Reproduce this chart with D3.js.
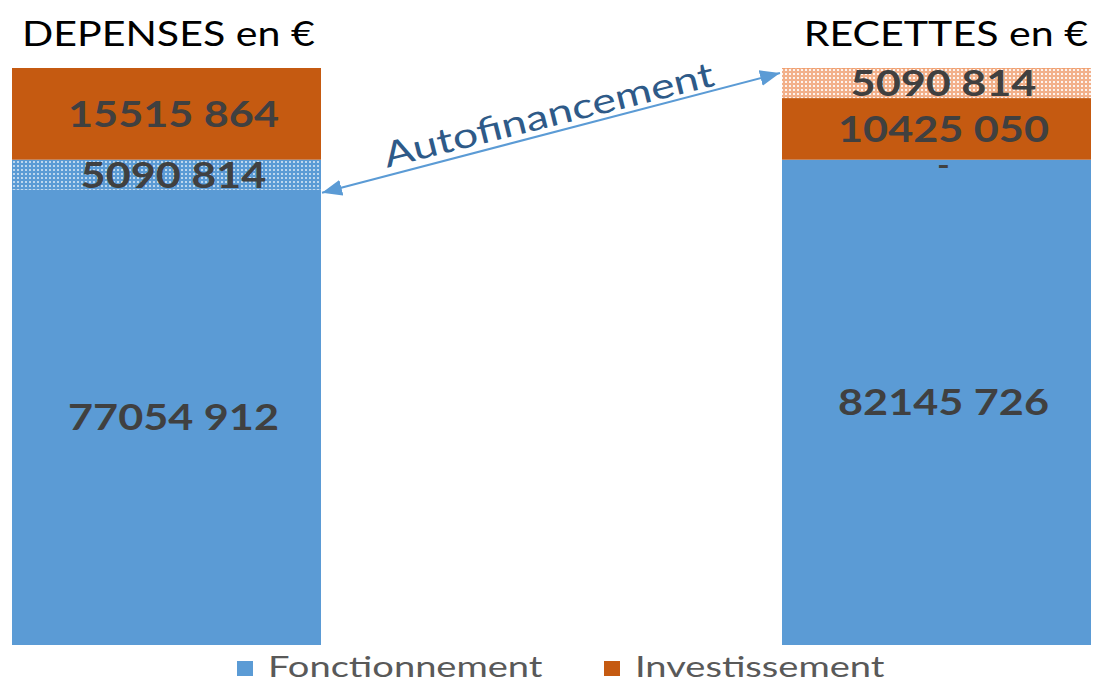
<!DOCTYPE html>
<html><head><meta charset="utf-8">
<script src="https://cdn.jsdelivr.net/npm/d3@7"></script>
<style>body{margin:0;background:#fff}svg{display:block}</style>
</head><body>
<svg id="c" width="1093" height="684"></svg>
<script>
const categories = ["DEPENSES en €", "RECETTES en €"];
const seriesNames = ["Fonctionnement", "Autofinancement F", "Investissement", "Autofinancement I"];
const fonctionnement = [77054912, 82145726];
const autofinFonct = [5090814, 0];
const investissement = [15515864, 10425050];
const autofinInvest = [0, 5090814];
const legendItems = ["Fonctionnement", "Investissement"];
const arrowLabel = "Autofinancement";

const BLUE = "#5b9bd5", ORANGE = "#c55a11";
const svg = d3.select("#c");
const defs = svg.append("defs");

function pat(id, base, dot, op) {
  const p = defs.append("pattern").attr("id", id).attr("width", 4).attr("height", 4)
    .attr("patternUnits", "userSpaceOnUse");
  p.append("rect").attr("width", 4).attr("height", 4).attr("fill", base);
  p.append("rect").attr("x", 1).attr("y", 1).attr("width", 2).attr("height", 2).attr("fill", dot).attr("opacity", op);
}
pat("hatchBlue", BLUE, "#ffffff", 0.6);
pat("hatchOrange", "#f2b08a", "#ffffff", 0.85);

const rows = categories.map((c, i) => ({
  cat: c,
  "Fonctionnement": fonctionnement[i],
  "Autofinancement F": autofinFonct[i],
  "Investissement": investissement[i],
  "Autofinancement I": autofinInvest[i]
}));
const stacked = d3.stack().keys(seriesNames)(rows);
const total = d3.max(rows, r => seriesNames.reduce((s, k) => s + r[k], 0));

const x = d3.scaleBand().domain(categories).range([12, 1091]).paddingInner(0.5987).paddingOuter(0);
const y = d3.scaleLinear().domain([0, total]).range([645, 68]);
const fills = {
  "Fonctionnement": BLUE,
  "Autofinancement F": "url(#hatchBlue)",
  "Investissement": ORANGE,
  "Autofinancement I": "url(#hatchOrange)"
};

// text placed at (px,py) and stretched horizontally by k
function sText(parent, px, py, k, extra) {
  return parent.append("text")
    .attr("x", 0).attr("y", 0)
    .attr("transform", `translate(${px},${py}) ${extra || ""} scale(${k},1)`);
}
function fmt(v) {
  if (v === 0) return "-";
  const s = String(v);
  return s.length > 3 ? s.slice(0, -3) + " " + s.slice(-3) : s;
}

// bars
stacked.forEach(layer => {
  svg.append("g").selectAll("rect").data(layer).join("rect")
    .attr("x", d => x(d.data.cat))
    .attr("width", x.bandwidth())
    .attr("y", d => y(d[1]))
    .attr("height", d => y(d[0]) - y(d[1]))
    .attr("fill", fills[layer.key]);
});
// dashed outline at top of orange hatch
svg.append("g").selectAll("line").data(stacked[3].filter(d => d[1] > d[0])).join("line")
  .attr("x1", d => x(d.data.cat)).attr("x2", d => x(d.data.cat) + x.bandwidth())
  .attr("y1", d => y(d[1]) + 0.5).attr("y2", d => y(d[1]) + 0.5)
  .attr("stroke", "#f0a070").attr("stroke-width", 1).attr("stroke-dasharray", "3,2");

// labels
const labG = svg.append("g");
stacked.forEach(layer => {
  layer.forEach(d => {
    const v = d[1] - d[0];
    if (v === 0 && d[1] >= total) return;
    const cx = x(d.data.cat) + x.bandwidth() / 2 + 7;
    const cy = (y(d[0]) + y(d[1])) / 2;
    if (v === 0) {
      sText(labG, cx, cy + 13, 1.3)
        .attr("text-anchor", "middle")
        .attr("font-family", "'DejaVu Sans', sans-serif").attr("font-weight", "bold")
        .attr("font-size", 22).attr("fill", "#404040").text(fmt(v));
    } else {
      sText(labG, cx, cy, 1.2)
        .attr("dy", "0.36em")
        .attr("text-anchor", "middle")
        .attr("font-family", "Lato, sans-serif").attr("font-weight", "bold")
        .attr("font-size", 36).attr("fill", "#404040").text(fmt(v));
    }
  });
});

// titles
const tg = svg.append("g");
categories.forEach((c, i) => {
  sText(tg, i === 0 ? 22 : 1088, 46, 1.21)
    .attr("text-anchor", i === 0 ? "start" : "end")
    .attr("font-family", "Lato, sans-serif")
    .attr("font-size", 34).attr("fill", "#000").text(c);
});

// arrow
const ax1 = x(categories[0]) + x.bandwidth() + 1, ay1 = y(fonctionnement[0]) + 3;
const ax2 = x(categories[1]) - 2, ay2 = y(total) + 5;
function marker(id, orient) {
  defs.append("marker").attr("id", id).attr("viewBox", "0 0 20 16")
    .attr("refX", 20).attr("refY", 8).attr("markerWidth", 20).attr("markerHeight", 16)
    .attr("markerUnits", "userSpaceOnUse").attr("orient", orient)
    .append("path").attr("d", "M0,0 L20,8 L0,16 Z").attr("fill", BLUE);
}
marker("arrEnd", "auto");
marker("arrStart", "auto-start-reverse");
svg.append("line").attr("x1", ax1).attr("y1", ay1).attr("x2", ax2).attr("y2", ay2)
  .attr("stroke", BLUE).attr("stroke-width", 2)
  .attr("marker-end", "url(#arrEnd)").attr("marker-start", "url(#arrStart)");
const ang = Math.atan2(ay2 - ay1, ax2 - ax1) * 180 / Math.PI;
const acx = 553, acy = ay1 + (ay2 - ay1) * (acx - ax1) / (ax2 - ax1);
sText(svg, acx, acy, 1.28, `rotate(${ang + 0.6}) translate(0,-6)`)
  .attr("text-anchor", "middle")
  .attr("font-family", "Lato, sans-serif")
  .attr("font-size", 35)
  .attr("fill", "#2e5a88")
  .text(arrowLabel);

// legend
const lg = svg.append("g");
const lx = [237, 604];
legendItems.forEach((name, i) => {
  lg.append("rect").attr("x", lx[i]).attr("y", 661).attr("width", 16).attr("height", 15)
    .attr("fill", i === 0 ? BLUE : ORANGE);
  sText(lg, lx[i] + 31, 677, 1.36)
    .attr("font-family", "Lato, sans-serif").attr("font-size", 28)
    .attr("fill", "#595959").text(name);
});
</script>
</body></html>
